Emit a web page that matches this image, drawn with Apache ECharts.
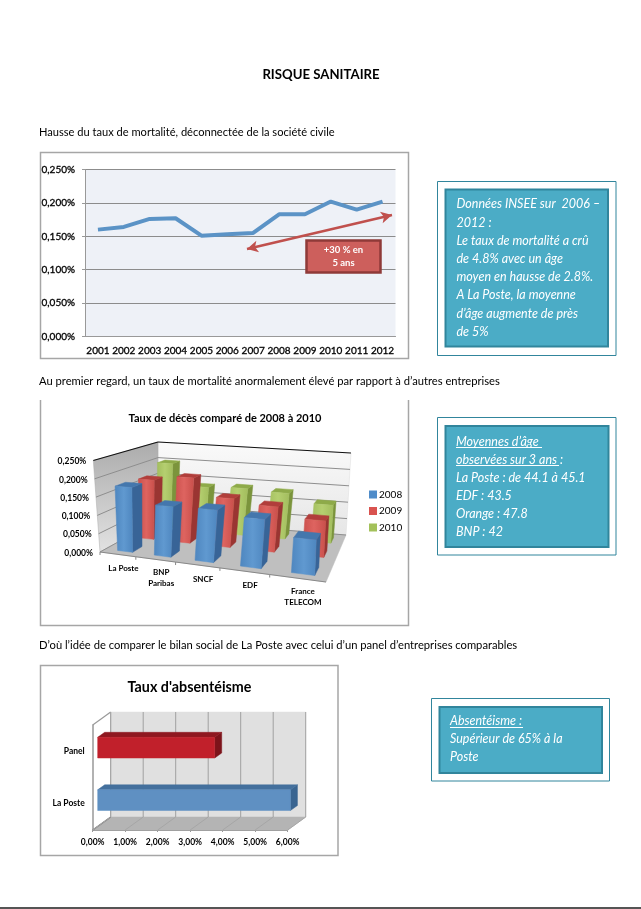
<!DOCTYPE html>
<html><head><meta charset="utf-8">
<style>html,body{margin:0;padding:0;background:#fff}#c{width:641px;height:909px}</style>
<script src="https://cdn.jsdelivr.net/npm/echarts@6/dist/echarts.min.js"></script>
</head><body><div id="c"></div>
<script>
// ---------- data ----------
const years = ['2001','2002','2003','2004','2005','2006','2007','2008','2009','2010','2011','2012'];
const mortality = [0.160,0.164,0.176,0.177,0.151,0.153,0.155,0.183,0.183,0.202,0.190,0.202];
const mortalityTicks = ['0,000%','0,050%','0,100%','0,150%','0,200%','0,250%'];

const companies = ['La Poste','BNP\nParibas','SNCF','EDF','France\nTELECOM'];
const deaths2008 = [0.177,0.135,0.137,0.125,0.087];
const deaths2009 = [0.172,0.187,0.137,0.125,0.098];
const deaths2010 = [0.200,0.135,0.140,0.135,0.110];
const deathTickValues = [0,0.05,0.10,0.15,0.20,0.25];
const deathTicks = ['0,000%','0,050%','0,100%','0,150%','0,200%','0,250%'];

const absGroups = ['La Poste','Panel'];
const absValues = [5.93,3.60];
const absTicks = ['0,00%','1,00%','2,00%','3,00%','4,00%','5,00%','6,00%'];
const absTickValues = [0,1,2,3,4,5,6];

const box1 = ['Données INSEE sur  2006 –','2012 :','Le taux de mortalité a crû','de 4.8% avec un âge','moyen en hausse de 2.8%.','A La Poste, la moyenne','d’âge augmente de près','de 5%'];
const box2 = ['Moyennes d’âge','observées sur 3 ans :','La Poste : de 44.1 à 45.1','EDF : 43.5','Orange : 47.8','BNP : 42'];
const box3 = ['Absentéisme :','Supérieur de 65% à la','Poste'];

// ---------- helpers ----------
const FF = 'Lato, sans-serif';
const chart = echarts.init(document.getElementById('c'), null, {renderer:'canvas'});

function text(x,y,s,size,o){o=o||{};return {type:'text',z:o.z||10,x:x,y:y,silent:true,style:{text:s,fill:o.fill||'#000',
  font:(o.italic?'italic ':'')+(o.bold?'bold ':'')+size+'px '+FF,align:o.align||'left',verticalAlign:'middle'}};}
function rect(x,y,w,h,fill,stroke,lw,z){return {type:'rect',z:z||1,silent:true,shape:{x:x,y:y,width:w,height:h},style:{fill:fill,stroke:stroke,lineWidth:lw}};}
function hline(x1,x2,y,c,z,lw){return {type:'line',z:z||11,silent:true,shape:{x1:x1,y1:y,x2:x2,y2:y},style:{stroke:c,lineWidth:lw||1}};}

function quadMap(p0,p1,p2,p3){ // unit square -> quad: (0,0),(1,0),(1,1),(0,1)
  const sx=p0[0]-p1[0]+p2[0]-p3[0], sy=p0[1]-p1[1]+p2[1]-p3[1];
  const dx1=p1[0]-p2[0], dx2=p3[0]-p2[0], dy1=p1[1]-p2[1], dy2=p3[1]-p2[1];
  const den=dx1*dy2-dx2*dy1, g=(sx*dy2-dx2*sy)/den, h=(dx1*sy-sx*dy1)/den;
  const a=p1[0]-p0[0]+g*p1[0], b=p3[0]-p0[0]+h*p3[0], c=p0[0];
  const d=p1[1]-p0[1]+g*p1[1], e=p3[1]-p0[1]+h*p3[1], f=p0[1];
  return (u,v)=>{const w=g*u+h*v+1;return [(a*u+b*v+c)/w,(d*u+e*v+f)/w];};
}
// chart 2 box projection
const floorMap = quadMap([100,552],[326,582],[346,535],[158,520]);
const topMap   = quadMap([93.3,460.5],[329,477],[351,453],[158,442]);
function P(u,d,h){const a=floorMap(u,d),b=topMap(u,d);return [a[0]+(b[0]-a[0])*h,a[1]+(b[1]-a[1])*h];}
function poly(pts,fill,stroke,lw){return {type:'polygon',shape:{points:pts},style:{fill:fill,stroke:stroke||fill,lineWidth:lw==null?0.5:lw}};}
function seg(a,b,c,lw){return {type:'line',shape:{x1:a[0],y1:a[1],x2:b[0],y2:b[1]},style:{stroke:c,lineWidth:lw||1}};}

function box3d(d0,d1,cols){
  return function(params,api){
    const cs=params.coordSys, c=api.coord([api.value(0),api.value(1)]), bw=api.size([1,0])[0];
    const um=(c[0]-cs.x)/cs.width+0.012, du=bw/cs.width, h=(cs.y+cs.height-c[1])/cs.height;
    const u0=um-du*0.21,u1=um+du*0.21;
    const g=[
      poly([P(u1,d0,0),P(u1,d1,0),P(u1,d1,h),P(u1,d0,h)],cols[2]),
      poly([P(u0,d0,h),P(u1,d0,h),P(u1,d1,h),P(u0,d1,h)],cols[1]),
      poly([P(u0,d0,0),P(u1,d0,0),P(u1,d0,h),P(u0,d0,h)],new echarts.graphic.LinearGradient(0,0,1,0,[{offset:0,color:cols[0]},{offset:.5,color:cols[3]},{offset:1,color:cols[0]}]))
    ];
    return {type:'group',children:g};
  };
}

// ---------- page furniture ----------
const TEAL='#31859C', AQUA='#4BACC6', NOFILL='rgba(255,255,255,0)';
const graphics=[
  text(321,75,'RISQUE SANITAIRE',13.2,{bold:true,align:'center'}),
  text(39,132,'Hausse du taux de mortalité, déconnectée de la société civile',11.1),
  text(39,381,'Au premier regard, un taux de mortalité anormalement élevé par rapport à d’autres entreprises',11.2),
  text(39,645,'D’où l’idée de comparer le bilan social de La Poste avec celui d’un panel d’entreprises comparables',11.2),
  // chart frames
  rect(40.5,152.5,368,206,NOFILL,'#A6A6A6',1.5),
  {type:'polyline',z:1,silent:true,shape:{points:[[40.5,400],[40.5,625.5],[408.5,625.5],[408.5,400]]},style:{fill:null,stroke:'#A6A6A6',lineWidth:1.5}},
  rect(40.5,665.5,297.5,190,NOFILL,'#A6A6A6',1.5),
  // note boxes
  rect(437.5,181.5,178.5,174,NOFILL,TEAL,1),
  rect(445.5,189.5,162.5,157,AQUA,TEAL,2,2),
  rect(437.5,417.5,178.5,137.5,NOFILL,TEAL,1),
  rect(445.5,426,163,121,AQUA,TEAL,2,2),
  rect(431.5,698.5,178,82.5,NOFILL,TEAL,1),
  rect(439.5,707,162.5,66,AQUA,TEAL,2,2),
  // annotation
  rect(306.5,240.5,74,32,'#CD5F5C','#8F3A38',2.5,100),
  text(343.5,250,'+30 % en',9.5,{fill:'#fff',bold:true,align:'center',z:101}),
  text(343.5,263,'5 ans',9.5,{fill:'#fff',bold:true,align:'center',z:101}),
  hline(456,542,447.5,'#fff'), hline(456,559,465.5,'#fff'), hline(450,523,727.5,'#fff'),
  hline(0,641,908,'#555',11,2)
];
box1.forEach((s,i)=>graphics.push(text(456.5,204.3+i*18.2,s,12.5,{italic:true,fill:'#fff'})));
box2.forEach((s,i)=>graphics.push(text(456,441.7+i*18,s,12.5,{italic:true,fill:'#fff'})));
box3.forEach((s,i)=>graphics.push(text(450,721.3+i*18,s,12.5,{italic:true,fill:'#fff'})));

// ---------- option ----------
const option={
  animation:false,
  backgroundColor:'#fff',
  title:[
    {text:'Taux de décès comparé de 2008 à 2010',left:225,top:413,padding:0,textAlign:'center',textStyle:{fontFamily:FF,fontSize:11,fontWeight:'bold',color:'#000'}},
    {text:"Taux d'absentéisme",left:189.5,top:680,padding:0,textAlign:'center',textStyle:{fontFamily:FF,fontSize:14.3,fontWeight:'bold',color:'#000'}}
  ],
  legend:{data:['2008','2009','2010'],orient:'vertical',left:369,top:489.5,padding:0,itemWidth:8,itemHeight:8,itemGap:6.5,icon:'rect',selectedMode:false,
    textStyle:{fontFamily:FF,fontSize:10,color:'#000',padding:[0,0,0,-3]}},
  graphic:graphics,
  grid:[
    {left:85,top:169.5,width:310.5,height:167,show:true,backgroundColor:'#EEF1F7',borderWidth:0},
    {left:100,top:460,width:226,height:92},
    {left:92.7,top:725,width:195,height:105}
  ],
  xAxis:[
    {gridIndex:0,type:'category',data:years,axisLine:{lineStyle:{color:'#999'}},axisTick:{length:3,lineStyle:{color:'#999'}},
      axisLabel:{fontFamily:FF,fontSize:10,color:'#000',textBorderColor:'#000',textBorderWidth:0.3,margin:9,interval:0}},
    {gridIndex:1,type:'category',data:companies,show:false},
    {gridIndex:2,type:'value',min:0,max:6,interval:1,axisLine:{show:true,lineStyle:{color:'#999'}},axisTick:{show:true,length:2,lineStyle:{color:'#999'}},splitLine:{show:false},
      axisLabel:{fontFamily:FF,fontSize:8.5,fontWeight:'bold',color:'#000',margin:7.5,formatter:(v)=>absTicks[v]}}
  ],
  yAxis:[
    {gridIndex:0,type:'value',min:0,max:0.25,interval:0.05,axisLine:{show:true,lineStyle:{color:'#999'}},axisTick:{show:true,length:3,lineStyle:{color:'#999'}},
      splitLine:{lineStyle:{color:'#8C8C8C'}},axisLabel:{fontFamily:FF,fontSize:10,color:'#000',textBorderColor:'#000',textBorderWidth:0.3,margin:10,formatter:(v)=>mortalityTicks[Math.round(v/0.05)]}},
    {gridIndex:1,type:'value',min:0,max:0.25,interval:0.05,show:false},
    {gridIndex:2,type:'category',data:absGroups,axisLine:{lineStyle:{color:'#999',width:1.5}},axisTick:{length:2,lineStyle:{color:'#999'}},
      axisLabel:{fontFamily:FF,fontSize:8.5,fontWeight:'bold',color:'#000',margin:8}}
  ],
  series:[
    {type:'line',name:'Mortalité',xAxisIndex:0,yAxisIndex:0,data:mortality,symbol:'none',z:5,
      lineStyle:{color:'#5B93C6',width:4,join:'bevel'},
      markLine:{silent:true,animation:false,symbol:['arrow','arrow'],symbolSize:[9,11],label:{show:false},z:50,
        lineStyle:{color:'#C0504D',width:2.5,type:'solid'},
        data:[[{x:247,y:249},{x:392,y:215}]]}},

    // chart 2 walls
    {type:'custom',xAxisIndex:1,yAxisIndex:1,clip:false,silent:true,z:1,data:[[0,0]],renderItem:function(){
      const ch=[
        poly([P(0,1,0),P(1,1,0),P(1,1,1),P(0,1,1)],new echarts.graphic.LinearGradient(0,0,0,1,[{offset:0,color:'#FAFAFA'},{offset:1,color:'#E6E6E6'}]),'#ddd'),
        poly([P(0,0,0),P(0,1,0),P(0,1,1),P(0,0,1)],new echarts.graphic.LinearGradient(0,0,0,1,[{offset:0,color:'#ABABAB'},{offset:1,color:'#E2E2E2'}]),'#aaa'),
        poly([P(0,0,0),P(1,0,0),P(1,1,0),P(0,1,0)],'#BFBFBF','#BFBFBF')
      ];
      return {type:'group',children:ch};
    }},
    {type:'custom',xAxisIndex:1,yAxisIndex:1,clip:false,silent:true,z:1.5,data:deathTickValues.map((v,i)=>[0,v,i]),renderItem:function(params,api){
      const cs=params.coordSys,c=api.coord([0,api.value(1)]),h=(cs.y+cs.height-c[1])/cs.height,i=api.value(2);
      const dark=h>0.99, col=dark?'#111':'#8E8E8E';
      const a=P(0,0,h);
      return {type:'group',children:[
        seg(a,P(0,1,h),col,dark?1.2:1), seg(P(0,1,h),P(1,1,h),col,dark?1.2:1),
        {type:'text',style:{text:deathTicks[i],x:a[0]-7,y:a[1]+1,align:'right',verticalAlign:'middle',fill:'#000',font:'bold 8.5px '+FF}}
      ]};
    }},
    {type:'custom',xAxisIndex:1,yAxisIndex:1,clip:false,silent:true,z:1.5,data:companies.map((c,i)=>[i,0]),renderItem:function(params,api){
      const cs=params.coordSys,c=api.coord([api.value(0),0]),bw=api.size([1,0])[0],um=(c[0]-cs.x)/cs.width,du=bw/cs.width,i=api.value(0);
      const e=P(um-du/2,0,0),m=P(um,0,0),two=companies[i].indexOf('\n')>=0;
      return {type:'group',children:[
        seg(e,[e[0],e[1]+3],'#888'),
        seg(P(um-du/2,0,0),P(um+du/2,0,0),'#888'),
        {type:'text',style:{text:companies[i],x:m[0]+6,y:m[1]+(two?8:9),align:'center',verticalAlign:'top',lineHeight:11,fill:'#000',font:'bold 8px '+FF}}
      ]};
    }},

    // chart 2 bars (front row drawn last)
    {type:'custom',name:'2008',xAxisIndex:1,yAxisIndex:1,clip:false,silent:true,z:6,itemStyle:{color:'#4F8CC9'},
      data:deaths2008.map((v,i)=>[i,v]),encode:{x:0,y:1},renderItem:box3d(0.08,0.23,['#4E86BF','#4477AD','#386497','#6099D0'])},
    {type:'custom',name:'2009',xAxisIndex:1,yAxisIndex:1,clip:false,silent:true,z:4,itemStyle:{color:'#D9534F'},
      data:deaths2009.map((v,i)=>[i,v]),encode:{x:0,y:1},renderItem:box3d(0.43,0.57,['#C94F4B','#B13E3B','#9A3532','#DE6460'])},
    {type:'custom',name:'2010',xAxisIndex:1,yAxisIndex:1,clip:false,silent:true,z:3,itemStyle:{color:'#A3C15A'},
      data:deaths2010.map((v,i)=>[i,v]),encode:{x:0,y:1},renderItem:box3d(0.76,0.90,['#A2BD5D','#8EAA49','#7B943C','#B5CF70'])},

    // chart 3 walls
    {type:'custom',xAxisIndex:2,yAxisIndex:2,clip:false,silent:true,z:1,data:[[0,0]],renderItem:function(params){
      const c=params.coordSys,x=c.x,y=c.y,w=c.width,h=c.height,DX=18,DY=-13;
      return {type:'group',children:[
        poly([[x+DX,y+DY],[x+DX+w,y+DY],[x+DX+w,y+h+DY],[x+DX,y+h+DY]],'#E0E0E0','#E0E0E0'),
        poly([[x,y+h],[x+w,y+h],[x+w+DX,y+h+DY],[x+DX,y+h+DY]],'#B4B4B4','#B4B4B4'),
        seg([x,y],[x+DX,y+DY],'#999',1.2), seg([x,y+h],[x+DX,y+h+DY],'#777',1.2), seg([x+DX,y+DY],[x+DX,y+h+DY],'#BBB',1)
      ]};
    }},
    {type:'custom',xAxisIndex:2,yAxisIndex:2,clip:false,silent:true,z:1.5,data:absTickValues.map(v=>[v,0]),renderItem:function(params,api){
      const c=params.coordSys,p=api.coord([api.value(0),0]),x=p[0],y=c.y,h=c.height,DX=18,DY=-13;
      return {type:'group',children:[
        seg([x+DX,y+DY],[x+DX,y+h+DY],'#A0A0A0',1), seg([x,y+h],[x+DX,y+h+DY],'#A6A6A6',1)
      ]};
    }},
    {type:'custom',name:'Taux',xAxisIndex:2,yAxisIndex:2,clip:false,silent:true,z:6,
      data:absValues.map((v,i)=>[v,i]),encode:{x:0,y:1},renderItem:function(params,api){
        const i=api.value(1),p0=api.coord([0,i]),p=api.coord([api.value(0),i]);
        const x0=p0[0]+5,x1=p[0]+5,yc=p[1]-3.6,H=20.7,DX=7,DY=-5;
        const col=i===0?['#5F90C2','#44709D','#3A6591']:['#C1202B','#8F1820','#7C131A'];
        const t=yc-H/2,b=yc+H/2;
        return {type:'group',children:[
          poly([[x1,t],[x1+DX,t+DY],[x1+DX,b+DY],[x1,b]],col[2]),
          poly([[x0,t],[x1,t],[x1+DX,t+DY],[x0+DX,t+DY]],col[1]),
          poly([[x0,t],[x1,t],[x1,b],[x0,b]],col[0])
        ]};
      }}
  ]
};
chart.setOption(option);
</script></body></html>
